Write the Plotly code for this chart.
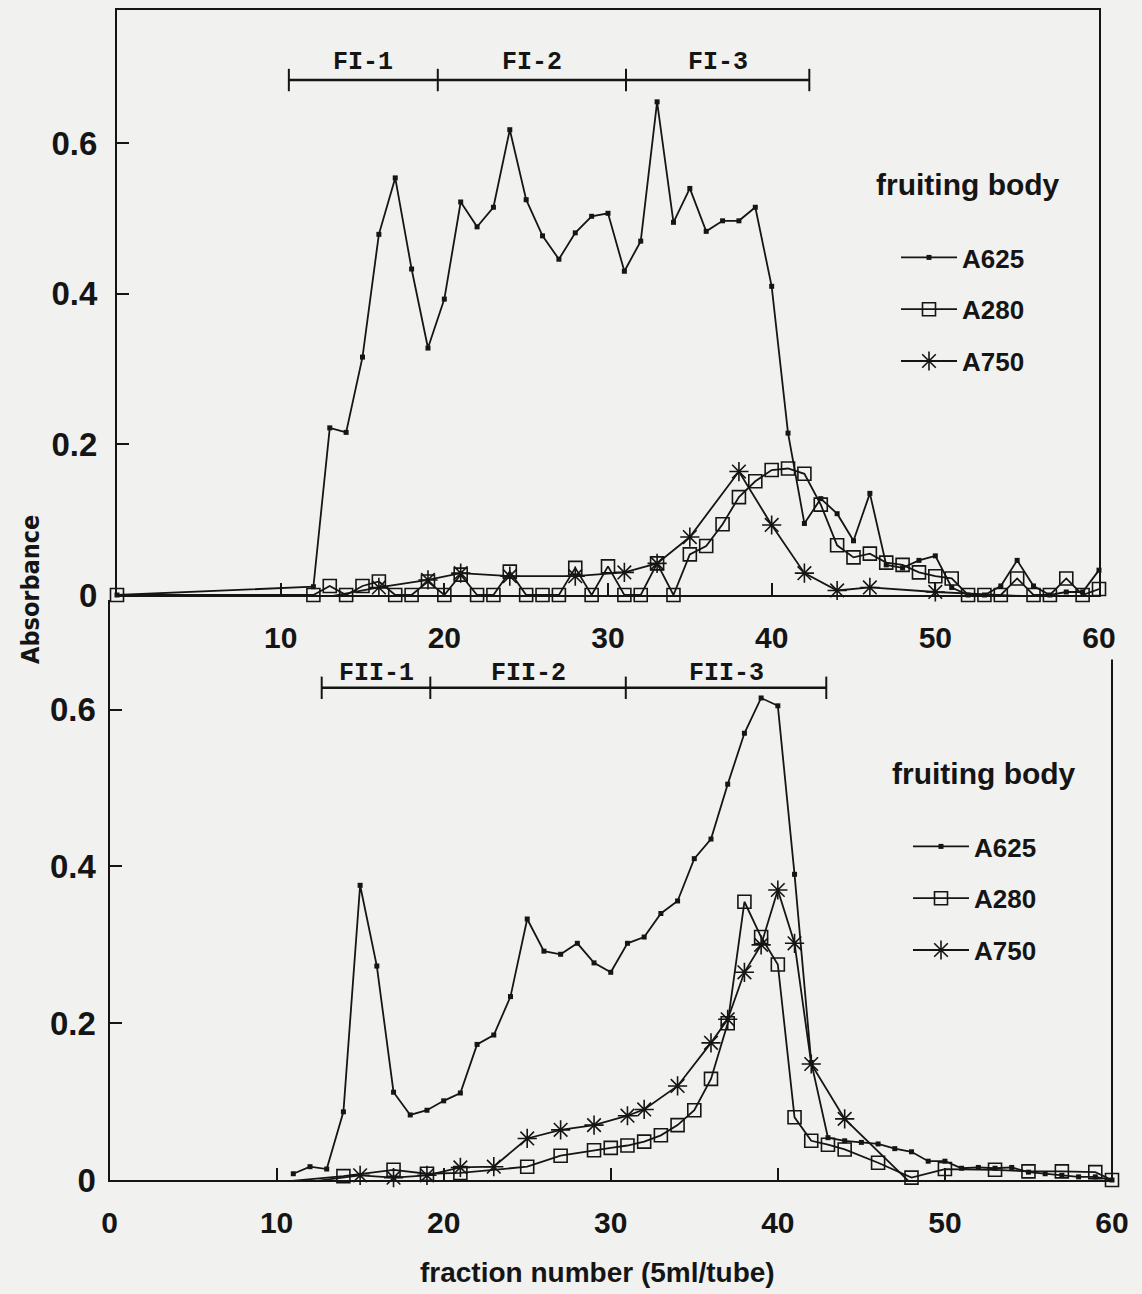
import plotly.graph_objects as go

# ---------------- data ----------------
# Upper panel (fraction I)
top_a625_x = [0, 12, 13, 14, 15, 16, 17, 18, 19, 20, 21, 22, 23, 24, 25, 26, 27, 28, 29, 30,
              31, 32, 33, 34, 35, 36, 37, 38, 39, 40, 41, 42, 43, 44, 45, 46, 47, 48, 49, 50,
              51, 52, 53, 54, 55, 56, 57, 58, 59, 60]
top_a625_y = [0.0, 0.011, 0.222, 0.216, 0.316, 0.479, 0.554, 0.433, 0.328, 0.393,
              0.522, 0.489, 0.515, 0.618, 0.525, 0.477, 0.446, 0.481, 0.503, 0.507,
              0.43, 0.47, 0.655, 0.495, 0.54, 0.483, 0.497, 0.497, 0.515, 0.41,
              0.215, 0.095, 0.128, 0.108, 0.072, 0.135, 0.04, 0.036, 0.046, 0.052,
              0.01, 0.0, 0.0, 0.012, 0.046, 0.012, 0.0, 0.004, 0.004, 0.033]

top_a280_x = [0, 12, 13, 14, 15, 16, 17, 18, 19, 20, 21, 22, 23, 24, 25, 26, 27, 28, 29, 30,
              31, 32, 33, 34, 35, 36, 37, 38, 39, 40, 41, 42, 43, 44, 45, 46, 47, 48, 49, 50,
              51, 52, 53, 54, 55, 56, 57, 58, 59, 60]
top_a280_y = [0.0, 0.0, 0.012, 0.0, 0.012, 0.018, 0.0, 0.0, 0.018, 0.0,
              0.027, 0.0, 0.0, 0.031, 0.0, 0.0, 0.0, 0.036, 0.0, 0.038,
              0.0, 0.0, 0.042, 0.0, 0.054, 0.065, 0.094, 0.13, 0.151, 0.166,
              0.168, 0.161, 0.12, 0.066, 0.05, 0.055, 0.043, 0.04, 0.03, 0.025,
              0.022, 0.0, 0.0, 0.0, 0.022, 0.0, 0.0, 0.022, 0.0, 0.008]

top_a750_x = [13, 16, 19, 21, 24, 28, 31, 33, 35, 38, 40, 42, 44, 46, 50, 60]
top_a750_y = [-0.002, 0.01, 0.02, 0.029, 0.025, 0.025, 0.03, 0.042, 0.077, 0.164,
              0.093, 0.029, 0.006, 0.01, 0.004, -0.006]

top_pool_edges = [10.5, 19.6, 31.1, 42.3]
top_pool_names = ["FI-1", "FI-2", "FI-3"]

# Lower panel (fraction II)
bot_a625_x = list(range(11, 61))
bot_a625_y = [0.008, 0.017, 0.014, 0.087, 0.376, 0.273, 0.112, 0.083, 0.089, 0.101,
              0.111, 0.173, 0.185, 0.234, 0.333, 0.292, 0.288, 0.302, 0.277, 0.265,
              0.302, 0.31, 0.34, 0.356, 0.41, 0.435, 0.505, 0.57, 0.615, 0.605,
              0.39, 0.15, 0.054, 0.05, 0.048, 0.046, 0.04, 0.036, 0.024, 0.024,
              0.015, 0.016, 0.015, 0.016, 0.01, 0.008, 0.006, 0.004, 0.004, 0.0]

bot_a280_x = [10, 14, 17, 19, 21, 25, 27, 29, 30, 31, 32, 33, 34, 35, 36, 37, 38, 39, 40,
              41, 42, 43, 44, 46, 48, 50, 53, 55, 57, 59, 60]
bot_a280_y = [-0.003, 0.005, 0.013, 0.008, 0.009, 0.017, 0.031, 0.038, 0.041, 0.044,
              0.049, 0.057, 0.07, 0.089, 0.129, 0.2, 0.355, 0.31, 0.275, 0.08,
              0.05, 0.045, 0.039, 0.022, 0.003, 0.014, 0.013, 0.011, 0.011, 0.01, 0.0]

bot_a750_x = [11, 15, 17, 19, 21, 23, 25, 27, 29, 31, 32, 34, 36, 37, 38, 39, 40, 41, 42,
              44, 48, 50, 54, 57, 60]
bot_a750_y = [-0.005, 0.006, 0.003, 0.006, 0.016, 0.017, 0.053, 0.064, 0.07, 0.082,
              0.09, 0.12, 0.175, 0.205, 0.265, 0.3, 0.37, 0.302, 0.148,
              0.078, -0.005, -0.007, -0.007, -0.007, -0.004]

bot_pool_edges = [12.7, 19.2, 30.9, 42.9]
bot_pool_names = ["FII-1", "FII-2", "FII-3"]

series_names = ["A625", "A280", "A750"]
y_ticks = [0, 0.2, 0.4, 0.6]
y_tick_text = ["0", "0.2", "0.4", "0.6"]
top_x_ticks = [10, 20, 30, 40, 50, 60]
bot_x_ticks = [0, 10, 20, 30, 40, 50, 60]
legend_title = "fruiting body"
x_title = "fraction number (5ml/tube)"
y_title = "Absorbance"

# ---------------- styling ----------------
W, H = 1142, 1294
INK = "#151515"
BG = "#f1f1ef"
SANS = "Liberation Sans, Arial, sans-serif"
MONO = "Liberation Mono, Courier New, monospace"


def fx(p):
    return p / W


def fy(p):
    return 1 - p / H


LW = 1.8
styles = {
    "A625": dict(symbol="square", size=5, line=dict(width=0, color=INK)),
    "A280": dict(symbol="square-open", size=13, line=dict(width=1.6, color=INK)),
    "A750": dict(symbol="asterisk-open", size=16, line=dict(width=1.6, color=INK)),
}

fig = go.Figure()

panels = [
    ("x", "y", "legend",
     [(top_a625_x, top_a625_y), (top_a280_x, top_a280_y), (top_a750_x, top_a750_y)]),
    ("x2", "y2", "legend2",
     [(bot_a625_x, bot_a625_y), (bot_a280_x, bot_a280_y), (bot_a750_x, bot_a750_y)]),
]
for xa, ya, lg, series in panels:
    for name, (xs, ys) in zip(series_names, series):
        fig.add_trace(go.Scatter(
            x=xs, y=ys, name=name, mode="lines+markers",
            line=dict(color=INK, width=LW),
            marker=dict(color=INK, **styles[name]),
            xaxis=xa, yaxis=ya, legend=lg, legendgroup=lg + name,
            cliponaxis=False, showlegend=True,
        ))

# fraction pool bars with their labels
TOP_POOL_Y, TOP_POOL_LABEL_Y = 0.684, 0.707
BOT_POOL_Y, BOT_POOL_LABEL_Y = 0.628, 0.646
for xa, ya, edges, names, py, ly in [
        ("x", "y", top_pool_edges, top_pool_names, TOP_POOL_Y, TOP_POOL_LABEL_Y),
        ("x2", "y2", bot_pool_edges, bot_pool_names, BOT_POOL_Y, BOT_POOL_LABEL_Y)]:
    fig.add_trace(go.Scatter(
        x=edges, y=[py] * len(edges), mode="lines+markers",
        line=dict(color=INK, width=2.4),
        marker=dict(symbol="line-ns-open", size=16, line=dict(width=2, color=INK)),
        xaxis=xa, yaxis=ya, showlegend=False, hoverinfo="skip", cliponaxis=False,
    ))
    for i, nm in enumerate(names):
        fig.add_annotation(
            x=(edges[i] + edges[i + 1]) / 2, y=ly, xref=xa, yref=ya, text=nm,
            showarrow=False, xanchor="center", yanchor="middle",
            font=dict(family=MONO, size=25, color=INK, weight="bold"),
        )

x_tick_font = dict(family=SANS, size=30, color=INK, weight="bold")
y_tick_font = dict(family=SANS, size=33, color=INK, weight="bold")
axis_common = dict(
    showgrid=False, zeroline=False, ticks="inside", ticklen=12, tickwidth=2,
    tickcolor=INK, showline=True, linecolor=INK, linewidth=2, automargin=False,
)

legend_common = dict(
    xanchor="left", yanchor="top", bgcolor="rgba(0,0,0,0)", tracegroupgap=15,
    itemwidth=56, font=dict(family=SANS, size=26, color=INK, weight="bold"),
)
legend_title_font = dict(family=SANS, size=30, color=INK, weight="bold")

fig.update_layout(
    template="none",
    width=W, height=H, margin=dict(l=0, r=0, t=0, b=0, pad=0), autosize=False,
    paper_bgcolor=BG, plot_bgcolor=BG,
    xaxis=dict(domain=[fx(117), fx(1099)], range=[0, 60], tickvals=top_x_ticks,
               anchor="y", mirror=True, ticklabelstandoff=15, tickfont=x_tick_font,
               **axis_common),
    yaxis=dict(domain=[fy(595), fy(10)], range=[0, 0.777], tickvals=y_ticks,
               ticktext=y_tick_text, anchor="x", mirror=True, ticklabelstandoff=11,
               tickfont=y_tick_font, **axis_common),
    xaxis2=dict(domain=[fx(109.5), fx(1112)], range=[0, 60], tickvals=bot_x_ticks,
                anchor="y2", ticklabelstandoff=15, tickfont=x_tick_font, **axis_common),
    yaxis2=dict(domain=[fy(1180), fy(600)], range=[0, 0.740], tickvals=y_ticks,
                ticktext=y_tick_text, anchor="x2", ticklabelstandoff=5,
                tickfont=y_tick_font, **axis_common),
    legend=dict(x=fx(874), y=fy(156), indentation=22,
                title=dict(text=legend_title + "<br> ", side="top",
                           font=legend_title_font),
                **legend_common),
    legend2=dict(x=fx(890), y=fy(745), indentation=18,
                 title=dict(text=legend_title + "<br> ", side="top",
                            font=legend_title_font),
                 **legend_common),
    showlegend=True,
)

# right frame of the lower panel (from the axis up to about 0.66)
fig.add_shape(type="line", xref="paper", yref="y2", x0=fx(1112), x1=fx(1112),
              y0=0, y1=0.664, line=dict(color=INK, width=2))

fig.add_annotation(x=fx(30), y=fy(590), xref="paper", yref="paper", text=y_title,
                   textangle=-90, showarrow=False, xanchor="center", yanchor="middle",
                   font=dict(family="DejaVu Sans Condensed, Liberation Sans, sans-serif",
                             size=25, color=INK, weight="bold"))
fig.add_annotation(x=fx(597), y=fy(1272), xref="paper", yref="paper", text=x_title,
                   showarrow=False, xanchor="center", yanchor="middle",
                   font=dict(family=SANS, size=28, color=INK, weight="bold"))

fig.write_html("out.html")
